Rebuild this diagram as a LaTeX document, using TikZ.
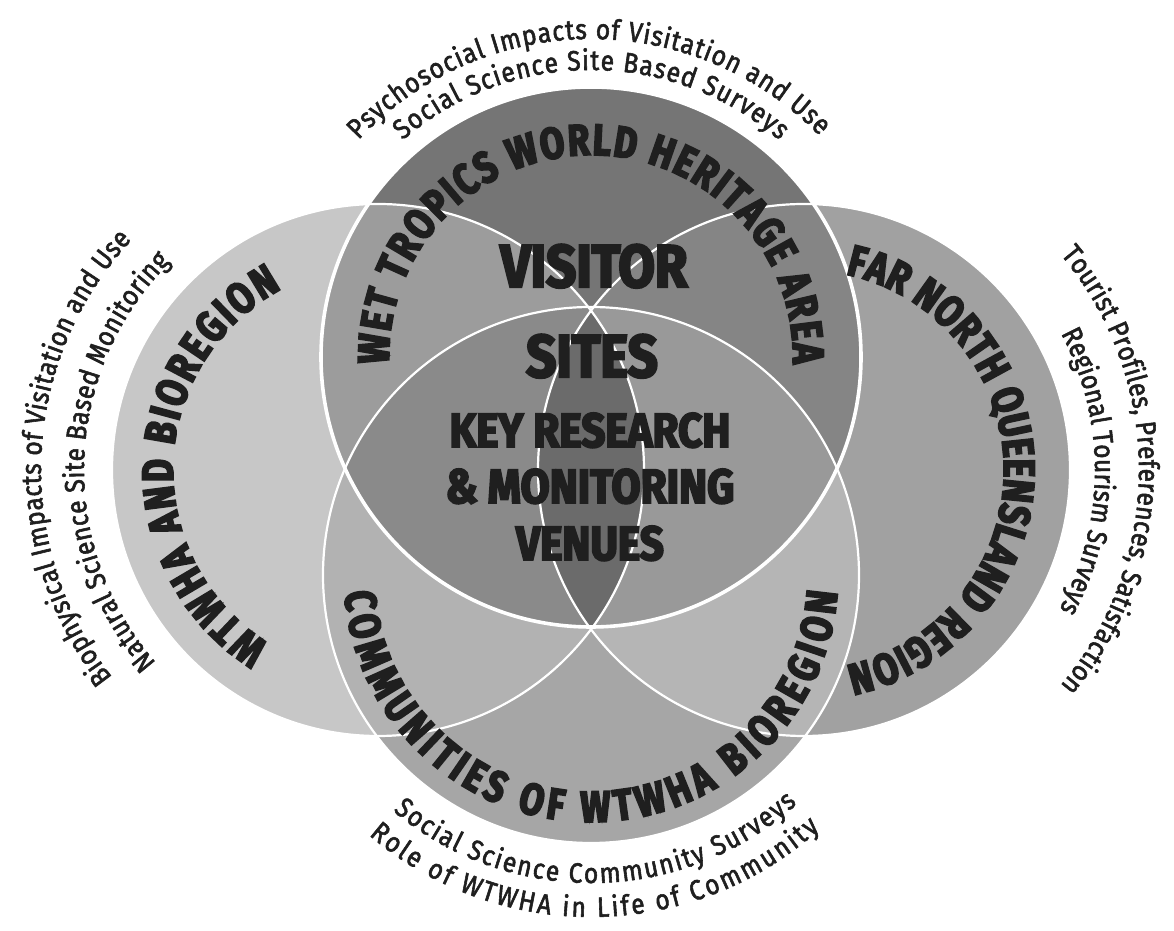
\documentclass[tikz,border=0pt]{standalone}
\usepackage{fontspec}
\setmainfont{Fira Sans}
\newfontfamily\ringfamily{Fira Sans}[FakeBold=4, FakeStretch=0.8]
\newfontfamily\corefamily{Fira Sans}[FakeBold=4, FakeStretch=0.88]
\newfontfamily\plainfont{Fira Sans}[FakeBold=2, FakeStretch=0.88]
\usetikzlibrary{decorations.text,calc}

% grey levels of the single, double, triple and fourfold overlaps
\definecolor{txt}{gray}{0.12}
\definecolor{fL}{gray}{0.78}
\definecolor{fR}{gray}{0.63}
\definecolor{fT}{gray}{0.46}
\definecolor{fB}{gray}{0.65}
\definecolor{fTL}{gray}{0.61}
\definecolor{fTR}{gray}{0.52}
\definecolor{fBL}{gray}{0.70}
\definecolor{fBR}{gray}{0.71}
\definecolor{fTBL}{gray}{0.54}
\definecolor{fTBR}{gray}{0.60}
\definecolor{fLens}{gray}{0.42}

\newcommand\ringfont{\ringfamily\bfseries\fontsize{22pt}{26pt}\selectfont}
\newcommand\notefont{\plainfont\fontsize{14pt}{17pt}\selectfont}
\newcommand\corefont{\corefamily\bfseries\fontsize{30pt}{33pt}\selectfont}
\newcommand\venuefont{\corefamily\bfseries\fontsize{24pt}{28pt}\selectfont}

\begin{document}
\begin{tikzpicture}[x=0.5pt,y=0.5pt,
  ringlabel/.style={decorate, decoration={text along path, text color=txt,
      text align=fit to path, text={|\ringfont|#1}}},
  notelabel/.style={decorate, decoration={text along path, text color=txt,
      text align=fit to path, text={|\notefont|#1}}},
  rim/.style={draw=white, line width=1.1pt},
  bigrim/.style={draw=white, line width=1.8pt},
  core/.style={text=txt, font=\corefont, anchor=base, inner sep=0pt},
  venue/.style={text=txt, font=\venuefont, anchor=base, inner sep=0pt}]

\useasboundingbox (0,0) rectangle (1174,931);
\fill[white] (0,0) rectangle (1174,931);

% circle centres and radii
\coordinate (T) at (591,574);
\coordinate (B) at (591,356);
\coordinate (L) at (378,461);
\coordinate (R) at (804,461);
\def\rT{270}
\def\rB{268}
\def\rL{266}
\def\rR{266}

% single circles
\fill[fL] (L) circle[radius=\rL];
\fill[fR] (R) circle[radius=\rR];
\fill[fB] (B) circle[radius=\rB];
\fill[fT] (T) circle[radius=\rT];

% pairwise overlaps
\begin{scope}
  \clip (T) circle[radius=\rT];
  \fill[fTL] (L) circle[radius=\rL];
  \fill[fTR] (R) circle[radius=\rR];
\end{scope}
\begin{scope}
  \clip (B) circle[radius=\rB];
  \fill[fBL] (L) circle[radius=\rL];
  \fill[fBR] (R) circle[radius=\rR];
\end{scope}

% overlaps of the top and bottom circles
\begin{scope}
  \clip (T) circle[radius=\rT];
  \clip (B) circle[radius=\rB];
  \fill[fTBL] (L) circle[radius=\rL];
  \fill[fTBR] (R) circle[radius=\rR];
\end{scope}

% central lens of the left and right circles
\begin{scope}
  \clip (L) circle[radius=\rL];
  \fill[fLens] (R) circle[radius=\rR];
\end{scope}

% white outlines
\path[rim] (L) circle[radius=\rL];
\path[rim] (R) circle[radius=\rR];
\path[rim] (B) circle[radius=\rB];
\path[bigrim] (T) circle[radius=\rT];

% labels running round the circles
\path[ringlabel={WET TROPICS WORLD HERITAGE AREA}]
  ($(T)+(182:202)$) arc[start angle=182, end angle=-2, radius=202];
\path[ringlabel={WTWHA AND BIOREGION}]
  ($(L)+(238:205)$) arc[start angle=238, end angle=118, radius=205];
\path[ringlabel={FAR NORTH QUEENSLAND REGION}]
  ($(R)+(78:200)$) arc[start angle=78, end angle=-78, radius=200];
\path[ringlabel={COMMUNITIES OF WTWHA BIOREGION}]
  ($(B)+(184:247)$) arc[start angle=184, end angle=356, radius=247];

% research notes outside the circles
\path[notelabel={Psychosocial Impacts of Visitation and Use}]
  ($(T)+(137:318)$) arc[start angle=137, end angle=44, radius=318];
\path[notelabel={Social Science Site Based Surveys}]
  ($(T)+(131:287)$) arc[start angle=131, end angle=49, radius=287];
\path[notelabel={Biophysical Impacts of Visitation and Use}]
  ($(L)+(218:337)$) arc[start angle=218, end angle=137, radius=337];
\path[notelabel={Natural Science Site Based Monitoring}]
  ($(L)+(221:294)$) arc[start angle=221, end angle=135, radius=294];
\path[notelabel={Tourist Profiles, Preferences, Satisfaction}]
  ($(R)+(40:335)$) arc[start angle=40, end angle=-40, radius=335];
\path[notelabel={Regional Tourism Surveys}]
  ($(R)+(28:291)$) arc[start angle=28, end angle=-28, radius=291];
\path[notelabel={Social Science Community Surveys}]
  ($(B)+(230:308)$) arc[start angle=230, end angle=312, radius=308];
\path[notelabel={Role of WTWHA in Life of Community}]
  ($(B)+(229.5:342)$) arc[start angle=229.5, end angle=312, radius=342];

% centre text
\node[core] (visitor) at (594,644) {VISITOR};
\node[core] (sites) at (592,554) {SITES};
\node[venue] (key) at (590,484) {KEY RESEARCH};
\node[venue] (monitoring) at (590,428) {\& MONITORING};
\node[venue] (venues) at (590,371) {VENUES};
\end{tikzpicture}
\end{document}
